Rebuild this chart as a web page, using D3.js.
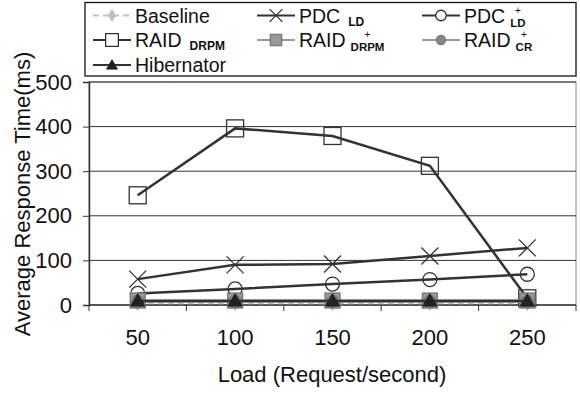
<!DOCTYPE html>
<html>
<head>
<meta charset="utf-8">
<script src="https://cdn.jsdelivr.net/npm/d3@7"></script>
<style>
  body { margin: 0; background: #fff; }
  svg { display: block; font-family: "Liberation Sans", Arial, sans-serif; }
</style>
</head>
<body>
<svg id="chart" width="580" height="394"></svg>
<script>
// data
const loads = [50, 100, 150, 200, 250]
const yTicks = [0, 100, 200, 300, 400, 500]
const baseline = [5, 5, 5, 5, 5]
const pdcLD = [58, 90, 92, 110, 128]
const pdcLDPlus = [26, 36, 47, 57, 69]
const raidDRPM = [246, 396, 379, 312, 15]
const raidDRPMPlus = [10, 10, 10, 10, 10]
const raidCRPlus = [8, 8, 8, 8, 8]
const hibernator = [9, 9, 9, 9, 9]

const dark = '#333', gray = '#999', light = '#c0c0c0'

const svg = d3.select('#chart')
const pLeft = 89, pRight = 576, pTop = 82, pBottom = 305

const x = d3.scalePoint().domain(loads).range([pLeft, pRight]).padding(0.5)
const y = d3.scaleLinear().domain([0, 500]).range([pBottom, pTop])

// plot area frame
svg.append('rect')
    .attr('x', pLeft).attr('y', pTop)
    .attr('width', pRight - pLeft).attr('height', pBottom - pTop)
    .attr('fill', 'none').attr('stroke', '#888').attr('stroke-width', 1)

// gridlines
svg.append('g').selectAll('line')
    .data(yTicks.filter(d => d > 0))
    .enter().append('line')
    .attr('x1', pLeft).attr('x2', pRight)
    .attr('y1', d => y(d)).attr('y2', d => y(d))
    .attr('stroke', dark).attr('stroke-width', 1)

// y axis
const yAxis = d3.axisLeft(y).tickValues(yTicks).tickSize(6).tickPadding(11)
const yg = svg.append('g').attr('transform', `translate(${pLeft},0)`).call(yAxis)
yg.select('.domain').attr('stroke', dark).attr('stroke-width', 1.5)
yg.selectAll('.tick line').attr('stroke', dark)
yg.selectAll('.tick text').attr('font-size', 22).attr('fill', '#111').attr('font-family', 'Liberation Sans, Arial, sans-serif')

// x axis: ticks between categories
const step = x.step()
const xg = svg.append('g').attr('transform', `translate(0,${pBottom})`)
xg.append('line').attr('x1', pLeft).attr('x2', pRight).attr('stroke', dark).attr('stroke-width', 1.5)
xg.selectAll('line.tk')
    .data(d3.range(loads.length + 1))
    .enter().append('line')
    .attr('class', 'tk')
    .attr('x1', i => pLeft + i * step).attr('x2', i => pLeft + i * step)
    .attr('y1', 0).attr('y2', 6)
    .attr('stroke', dark)
xg.selectAll('text')
    .data(loads)
    .enter().append('text')
    .attr('x', d => x(d)).attr('y', 40)
    .attr('text-anchor', 'middle')
    .attr('font-size', 22).attr('fill', '#111')
    .text(d => d)

// axis titles
svg.append('text')
    .attr('transform', `translate(30,194) rotate(-90)`)
    .attr('text-anchor', 'middle')
    .attr('font-size', 22).attr('fill', '#111')
    .text('Average Response Time(ms)')
svg.append('text')
    .attr('x', 332).attr('y', 382)
    .attr('text-anchor', 'middle')
    .attr('font-size', 22).attr('fill', '#111')
    .text('Load (Request/second)')

// marker drawers
function marker(g, type, size, stroke, fill) {
    if (type === 'square') {
        g.append('rect').attr('x', -size / 2).attr('y', -size / 2)
            .attr('width', size).attr('height', size)
            .attr('fill', fill).attr('stroke', stroke).attr('stroke-width', 1.3)
    } else if (type === 'circle') {
        g.append('circle').attr('r', size / 2)
            .attr('fill', fill).attr('stroke', stroke).attr('stroke-width', 1.3)
    } else if (type === 'x') {
        const h = size / 2
        g.append('path').attr('d', `M${-h},${-h}L${h},${h}M${-h},${h}L${h},${-h}`)
            .attr('stroke', stroke).attr('stroke-width', 1.3).attr('fill', 'none')
    } else if (type === 'triangle') {
        g.append('path').attr('d', d3.symbol(d3.symbolTriangle, size * size * 0.45)())
            .attr('transform', 'translate(0,1)')
            .attr('fill', fill).attr('stroke', stroke)
    } else if (type === 'diamond') {
        g.append('path').attr('d', d3.symbol(d3.symbolDiamond, size * size * 0.5)())
            .attr('fill', fill).attr('stroke', stroke)
    }
}

const series = [
    { values: baseline, color: light, dash: '6,4', width: 3, type: 'diamond', mstroke: light, mfill: light, size: 12 },
    { values: pdcLD, color: dark, dash: null, width: 2.5, type: 'x', mstroke: dark, mfill: 'none', size: 17 },
    { values: pdcLDPlus, color: dark, dash: null, width: 2.5, type: 'circle', mstroke: dark, mfill: 'none', size: 14 },
    { values: raidDRPM, color: dark, dash: null, width: 2.5, type: 'square', mstroke: dark, mfill: 'none', size: 17 },
    { values: raidDRPMPlus, color: gray, dash: null, width: 2.5, type: 'square', mstroke: '#777', mfill: '#999', size: 15 },
    { values: raidCRPlus, color: gray, dash: null, width: 2.5, type: 'circle', mstroke: '#777', mfill: '#888', size: 12 },
    { values: hibernator, color: dark, dash: null, width: 2.5, type: 'triangle', mstroke: '#222', mfill: '#222', size: 14 }
]

const line = d3.line().x((d, i) => x(loads[i])).y(d => y(d))

series.forEach(s => {
    svg.append('path')
        .datum(s.values)
        .attr('d', line)
        .attr('fill', 'none')
        .attr('stroke', s.color)
        .attr('stroke-width', s.width)
        .attr('stroke-dasharray', s.dash)
    s.values.forEach((v, i) => {
        const g = svg.append('g').attr('transform', `translate(${x(loads[i])},${y(v)})`)
        marker(g, s.type, s.size, s.mstroke, s.mfill)
    })
})

// legend
const lg = svg.append('g')
lg.append('rect').attr('x', 85).attr('y', 2.5).attr('width', 491).attr('height', 73.5)
    .attr('fill', '#fff').attr('stroke', '#111').attr('stroke-width', 1.3)

const legendItems = [
    { s: 0, col: 0, row: 0, name: 'Baseline', sub: null, plus: false },
    { s: 1, col: 1, row: 0, name: 'PDC', sub: 'LD', plus: false },
    { s: 2, col: 2, row: 0, name: 'PDC', sub: 'LD', plus: true },
    { s: 3, col: 0, row: 1, name: 'RAID', sub: 'DRPM', plus: false },
    { s: 4, col: 1, row: 1, name: 'RAID', sub: 'DRPM', plus: true },
    { s: 5, col: 2, row: 1, name: 'RAID', sub: 'CR', plus: true },
    { s: 6, col: 0, row: 2, name: 'Hibernator', sub: null, plus: false }
]
const colX = [93, 257, 422]
const rowY = [22.5, 47, 72]

legendItems.forEach(it => {
    const s = series[it.s]
    const x0 = colX[it.col], by = rowY[it.row], cy = by - 7
    lg.append('line').attr('x1', x0).attr('x2', x0 + 38).attr('y1', cy).attr('y2', cy)
        .attr('stroke', s.color).attr('stroke-width', 2).attr('stroke-dasharray', s.dash)
    const g = lg.append('g').attr('transform', `translate(${x0 + 19},${cy})`)
    marker(g, s.type, s.size * 0.75, s.mstroke, s.type === 'square' || s.type === 'circle' ? (s.mfill === 'none' ? '#fff' : s.mfill) : s.mfill)
    const t = lg.append('text').attr('x', x0 + 42).attr('y', by)
        .attr('font-size', 19.5).attr('fill', '#111').text(it.name)
    if (it.sub) {
        const w = t.node().getComputedTextLength()
        const sx = x0 + 42 + w + (it.plus ? 5 : 8)
        const st = lg.append('text').attr('x', sx).attr('y', by + (it.plus ? 4 : 3))
            .attr('font-size', it.plus ? 11.5 : 12).attr('font-weight', 'bold').attr('fill', '#111').text(it.sub)
        if (it.plus) {
            const sw = st.node().getComputedTextLength()
            lg.append('text').attr('x', sx + sw / 2).attr('y', by - 8.6)
                .attr('text-anchor', 'middle')
                .attr('font-size', 10).attr('fill', '#111').text('+')
        }
    }
})
</script>
</body>
</html>
